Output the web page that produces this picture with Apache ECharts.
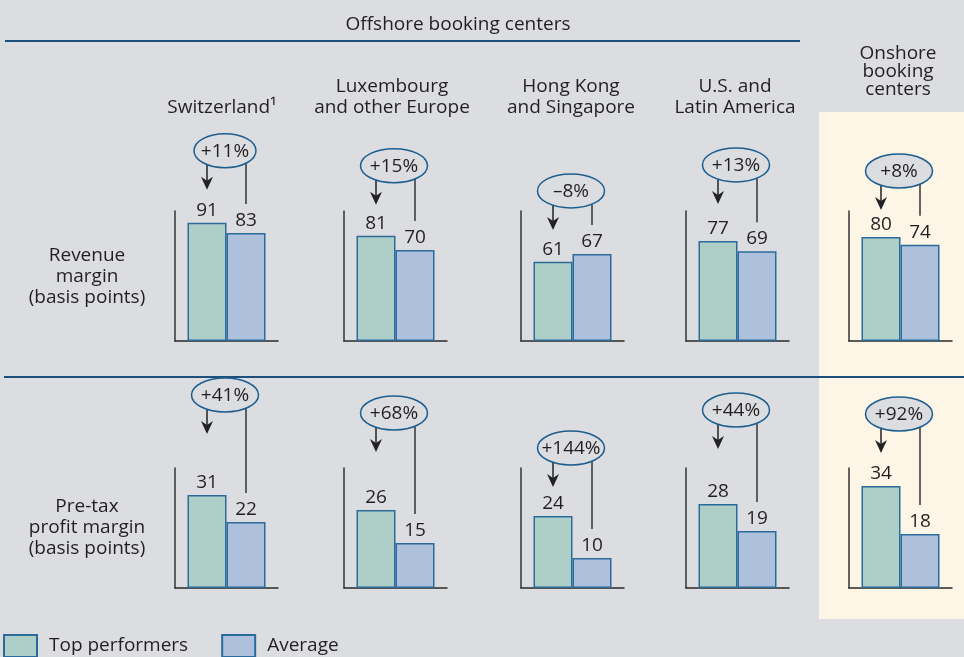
<!DOCTYPE html>
<html><head><meta charset="utf-8">
<script src="https://cdn.jsdelivr.net/npm/echarts@6/dist/echarts.min.js"></script>
<style>html,body{margin:0;padding:0;background:#dcdde0}#c{width:964px;height:657px}</style>
</head><body><div id="c"></div>
<script>
// ---- data ----
const groupTitle = 'Offshore booking centers';
const regions = ['Switzerland¹', 'Luxembourg\nand other Europe', 'Hong Kong\nand Singapore', 'U.S. and\nLatin America', 'Onshore\nbooking\ncenters'];
const metrics = ['Revenue\nmargin\n(basis points)', 'Pre-tax\nprofit margin\n(basis points)'];
const seriesNames = ['Top performers', 'Average'];
const revenueTop = [91, 81, 61, 77, 80];
const revenueAvg = [83, 70, 67, 69, 74];
const profitTop = [31, 26, 24, 28, 34];
const profitAvg = [22, 15, 10, 19, 18];
const revenueChange = ['+11%', '+15%', '–8%', '+13%', '+8%'];
const profitChange = ['+41%', '+68%', '+144%', '+44%', '+92%'];
const axisMax = [100, 40];

// ---- layout / style ----
const FONT = '"Open Sans", "Noto Sans", sans-serif';
const TEXT = '#231f20';
const colLeft = [175, 344, 521, 686, 849];
const colWidth = 103;
const rowTop = [211, 468];
const rowHeight = [130, 120];
const barW = 39;
const ellipseLift = [[72, 70, 63, 76, 66], [100, 97, 68, 94, 72]];
const fills = ['#aecfc7', '#aec1dc'];
const border = '#2b6b9b';

const rows = [[revenueTop, revenueAvg], [profitTop, profitAvg]];
const changes = [revenueChange, profitChange];

const chart = echarts.init(document.getElementById('c'));
const grids = [], xAxes = [], yAxes = [], series = [];
for (let r = 0; r < 2; r++) {
  for (let c = 0; c < 5; c++) {
    const g = r * 5 + c;
    grids.push({left: colLeft[c], top: rowTop[r], width: colWidth, height: rowHeight[r]});
    xAxes.push({gridIndex: g, type: 'category', data: [regions[c]],
      axisLine: {show: true, lineStyle: {color: '#2a2a2a', width: 1.5}},
      axisTick: {show: false}, axisLabel: {show: false}});
    yAxes.push({gridIndex: g, type: 'value', min: 0, max: axisMax[r],
      axisLine: {show: true, lineStyle: {color: '#333', width: 1.5}},
      axisTick: {show: false}, axisLabel: {show: false}, splitLine: {show: false}});
    for (let k = 0; k < 2; k++) {
      series.push({type: 'bar', name: seriesNames[k], xAxisIndex: g, yAxisIndex: g,
        data: [rows[r][k][c]], barWidth: barW, barGap: '0%',
        itemStyle: {color: fills[k], borderColor: border, borderWidth: 1.5},
        label: {show: true, position: 'top', distance: 3, fontSize: 19, fontFamily: FONT, color: TEXT},
        emphasis: {disabled: true}, silent: true});
    }
  }
}

chart.setOption({
  animation: false,
  backgroundColor: '#dcdde0',
  grid: grids, xAxis: xAxes, yAxis: yAxes, series: series,
  legend: {data: seriesNames, left: -2, top: 629, itemWidth: 33, itemHeight: 22, itemGap: 33,
    icon: 'rect', selectedMode: false,
    textStyle: {fontSize: 19, fontFamily: FONT, color: TEXT, padding: [0, 0, 0, 7]}}
});

const gfx = [];
gfx.push({type: 'rect', z: -10, shape: {x: 819, y: 112, width: 145, height: 507}, style: {fill: '#fdf6e6'}});
gfx.push({type: 'line', shape: {x1: 5, y1: 41, x2: 800, y2: 41}, style: {stroke: '#1c4f7c', lineWidth: 2}});
gfx.push({type: 'line', shape: {x1: 4, y1: 377, x2: 964, y2: 377}, style: {stroke: '#1c4f7c', lineWidth: 2}});
gfx.push({type: 'text', style: {text: groupTitle, x: 458, y: 25, align: 'center', verticalAlign: 'middle', font: '19px ' + FONT, fill: TEXT}});
const headX = [222, 392, 571, 735, 898];
for (let c = 0; c < 5; c++) {
  const onshore = c === 4;
  gfx.push({type: 'text', style: {text: regions[c], x: headX[c], y: onshore ? 99 : 118, align: 'center', verticalAlign: 'bottom',
    font: '19px ' + FONT, lineHeight: onshore ? 18 : 21, fill: TEXT}});
}
const rowLabelY = [276.5, 527.5];
for (let r = 0; r < 2; r++) {
  gfx.push({type: 'text', style: {text: metrics[r], x: 87, y: rowLabelY[r], align: 'center', verticalAlign: 'middle',
    font: '19px ' + FONT, lineHeight: 21, fill: TEXT}});
}
for (let r = 0; r < 2; r++) {
  for (let c = 0; c < 5; c++) {
    const g = r * 5 + c;
    const pT = chart.convertToPixel({gridIndex: g}, [0, rows[r][0][c]]);
    const pA = chart.convertToPixel({gridIndex: g}, [0, rows[r][1][c]]);
    const cx = pT[0];
    const gx = cx - barW / 2, bx = cx + barW / 2;
    const ey = Math.min(pT[1], pA[1]) - ellipseLift[r][c];
    const ex = cx - 1.5;
    const txt = changes[r][c];
    const rx = (r === 0 && c === 0) ? 31 : 33.5;
    const ry = 17;
    const edge = (x) => ey + ry * Math.sqrt(Math.max(0, 1 - Math.pow((x - ex) / rx, 2)));
    const tip = ey + ry + 22;
    gfx.push({type: 'line', shape: {x1: gx, y1: edge(gx), x2: gx, y2: tip - 6}, style: {stroke: '#222', lineWidth: 1.5}});
    gfx.push({type: 'polygon', shape: {points: [[gx, tip], [gx - 6, tip - 13], [gx, tip - 9], [gx + 6, tip - 13]]}, style: {fill: '#222'}});
    gfx.push({type: 'line', shape: {x1: bx, y1: edge(bx), x2: bx, y2: pA[1] - 29}, style: {stroke: '#333', lineWidth: 1.5}});
    gfx.push({type: 'ellipse', shape: {cx: ex, cy: ey, rx: rx, ry: ry}, style: {fill: '#dcdde0', stroke: '#1d5e90', lineWidth: 1.5}});
    gfx.push({type: 'text', style: {text: txt, x: ex, y: ey + 0.5, align: 'center', verticalAlign: 'middle', font: '19px ' + FONT, fill: TEXT}});
  }
}
chart.setOption({graphic: {elements: gfx}});
</script>
</body></html>
